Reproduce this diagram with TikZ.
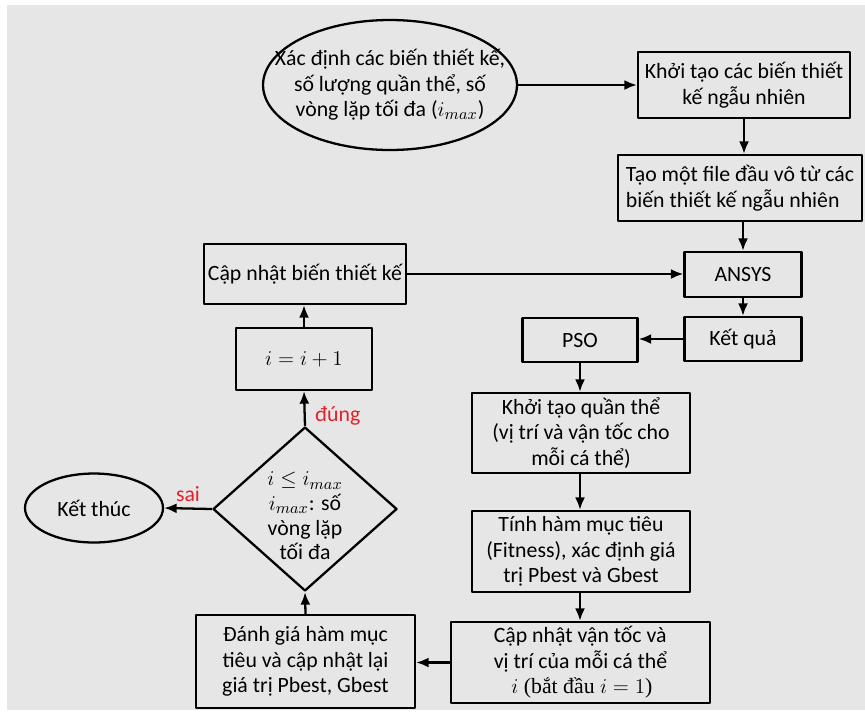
\documentclass[tikz,border=0pt]{standalone}
\usepackage{fontspec}
\setmainfont{Carlito}
\newfontfamily\serifvn{Liberation Serif}
\usetikzlibrary{shapes.geometric,arrows.meta}
\definecolor{nen}{HTML}{E6E6E6}
\definecolor{nhando}{HTML}{E3212B}
\begin{document}
\begin{tikzpicture}[x=0.02cm,y=-0.02cm,>={Latex[length=2.5mm,width=2mm]}, font=\fontsize{12.4}{14.5}\selectfont, line join=round,
	hop/.style={draw,line width=1.3pt,align=center,inner sep=1pt},
	elip/.style={ellipse,draw,line width=1.3pt,inner sep=0pt},
	noi/.style={->,line width=1.3pt},
	nhan/.style={text=nhando,font=\fontsize{12.4}{14.5}\selectfont}]
	\def\lw{1.3pt} % do day net
	% nen
	\useasboundingbox (0,0) rectangle (865,711);
	\fill[white] (0,0) rectangle (865,711);
	\fill[nen] (7,5) rectangle (865,710);
	% cac khoi
	\node[elip,minimum width=5.08cm,minimum height=2.6cm] (batdau) at (390,85) {};
	\node[align=center,inner sep=0pt] (batdau-chu) at (batdau.center) {Xác định các biến thiết kế,\\ số lượng quần thể, số\\ vòng lặp tối đa ($i_{max}$)};
	\node[hop,minimum width=4.24cm,minimum height=1.32cm] (khoitao) at (744,85) {Khởi tạo các biến thiết\\ kế ngẫu nhiên};
	\node[hop,align=left,minimum width=4.88cm,minimum height=1.32cm] (taofile) at (740,188) {Tạo một file đầu vô từ các\\ biến thiết kế ngẫu nhiên};
	\node[hop,minimum width=2.34cm,minimum height=0.9cm] (ansys) at (743,274.5) {ANSYS};
	\node[hop,minimum width=2.34cm,minimum height=0.88cm] (ketqua) at (743,339) {Kết quả};
	\node[hop,minimum width=2.3cm,minimum height=0.88cm] (pso) at (580,340) {PSO};
	\node[hop,minimum width=4.36cm,minimum height=1.6cm] (quanthe) at (581,433) {Khởi tạo quần thể\\ (vị trí và vận tốc cho\\ mỗi cá thể)};
	\node[hop,minimum width=4.36cm,minimum height=1.62cm] (tinhham) at (581,551.5) {Tính hàm mục tiêu\\ (Fitness), xác định giá\\ trị Pbest và Gbest};
	\node[hop,align=left,minimum width=5.18cm,minimum height=1.62cm] (capnhatvt) at (580.5,662.5) {Cập nhật vận tốc và\\ vị trí của mỗi cá thể\\ \hspace*{10pt}{\serifvn $i$ (bắt đầu $i=1$)}};
	\node[hop,minimum width=4.38cm,minimum height=1.86cm] (danhgia) at (305.5,661.5) {Đánh giá hàm mục\\ tiêu và cập nhật lại\\ giá trị Pbest, Gbest};
	\node[diamond,draw,line width=\lw,inner sep=0pt,minimum width=3.68cm,minimum height=3.28cm] (kiemtra) at (305,509) {};
	\node[align=center,inner sep=0pt,font=\fontsize{12.4}{14}\selectfont] (kiemtra-chu) at ([yshift=-4pt]kiemtra.center) {$i \le i_{max}$\\ $i_{max}$: số\\ vòng lặp\\ tối đa};
	\node[elip,minimum width=2.76cm,minimum height=1.38cm] (ketthuc) at (94,508) {Kết thúc};
	\node[hop,minimum width=2.72cm,minimum height=1.24cm] (tang) at (304,359) {$i=i+1$};
	\node[hop,minimum width=4.04cm,minimum height=1.2cm] (capnhat) at (305,274) {Cập nhật biến thiết kế};
	% cac mui ten
	\draw[noi] (batdau.east) -- (khoitao.west);
	\draw[noi] (khoitao.south) -- (khoitao.south |- taofile.north);
	\draw[noi] (ansys.north |- taofile.south) -- (ansys.north);
	\draw[noi] (ansys.south) -- (ketqua.north);
	\draw[noi] (ketqua.west) -- (ketqua.west -| pso.east);
	\draw[noi] (pso.south) -- (pso.south |- quanthe.north);
	\draw[noi] (pso.south |- quanthe.south) -- (pso.south |- tinhham.north);
	\draw[noi] (pso.south |- tinhham.south) -- (pso.south |- capnhatvt.north);
	\draw[noi] (capnhatvt.west) -- (capnhatvt.west -| danhgia.east);
	\draw[noi] (danhgia.north) -- (kiemtra.south);
	\draw[noi] (kiemtra.north) -- node[nhan,pos=0.3,right,xshift=2pt]{đúng} (tang.south);
	\draw[noi] (tang.north) -- (tang.north |- capnhat.south);
	\draw[noi] (capnhat.east) -- (capnhat.east -| ansys.west);
	\draw[noi] (kiemtra.west) -- node[nhan,midway,above]{sai} (ketthuc.east);
\end{tikzpicture}
\end{document}
